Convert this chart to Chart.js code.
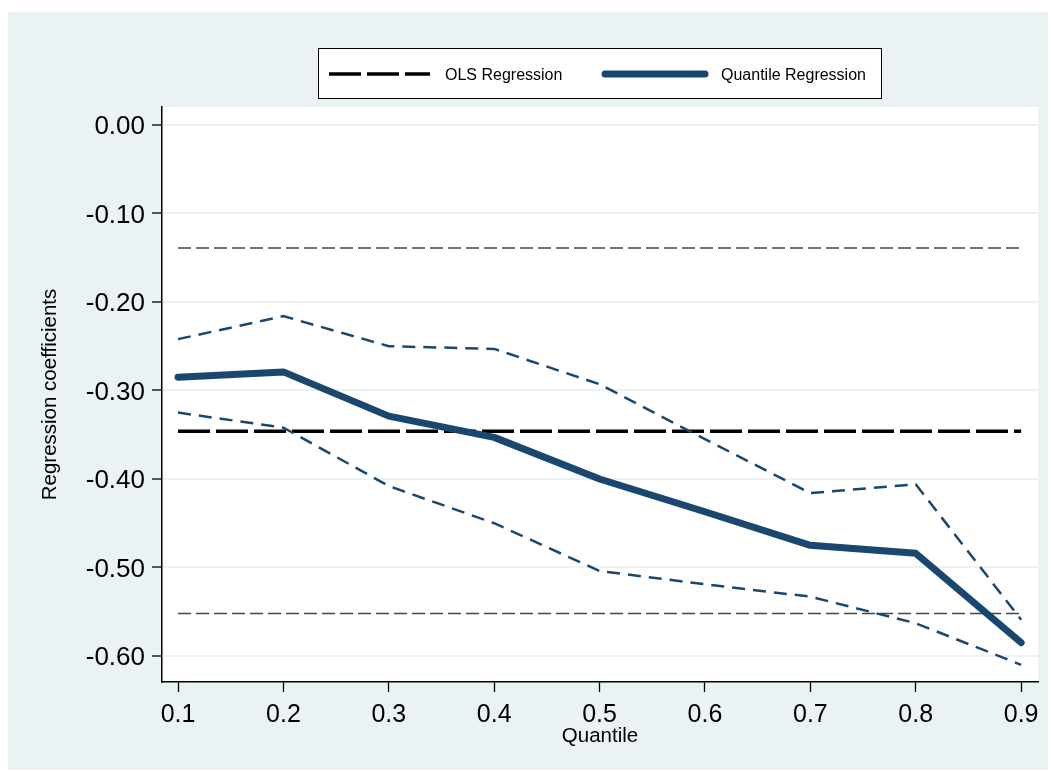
<!DOCTYPE html>
<html lang="en">
<head>
    <meta charset="UTF-8">
    <title>Quantile vs OLS Regression</title>
    <script src="https://cdn.jsdelivr.net/npm/chart.js"></script>
    <style>
        * {
            margin: 0;
            padding: 0;
            box-sizing: border-box;
        }

        body {
            background: #ffffff;
            width: 1051px;
            height: 774px;
            overflow: hidden;
        }

        .wrap {
            position: relative;
            width: 1051px;
            height: 774px;
        }
    </style>
</head>
<body>
    <div class="wrap">
        <canvas id="qrChart" width="1051" height="774"></canvas>
    </div>

    <script>
        // values
        const quantiles = [0.1, 0.2, 0.3, 0.4, 0.5, 0.6, 0.7, 0.8, 0.9];
        const quantCoef = [-0.285, -0.279, -0.329, -0.353, -0.400, -0.437, -0.475, -0.484, -0.585];
        const quantUpper = [-0.242, -0.216, -0.250, -0.253, -0.293, -0.355, -0.416, -0.406, -0.559];
        const quantLower = [-0.325, -0.342, -0.408, -0.450, -0.504, -0.519, -0.533, -0.563, -0.610];
        const olsCoef = -0.346;
        const olsUpper = -0.139;
        const olsLower = -0.552;

        const yTicks = [0, -0.1, -0.2, -0.3, -0.4, -0.5, -0.6];
        const xTicks = [0.1, 0.2, 0.3, 0.4, 0.5, 0.6, 0.7, 0.8, 0.9];
        const legendLabels = ['OLS Regression', 'Quantile Regression'];

        const navy = '#1a476f';
        const bgBlue = '#eaf2f3';
        const fontFamily = "'Liberation Sans', Arial, Helvetica, sans-serif";

        const pts = vals => quantiles.map((q, i) => ({ x: q, y: vals[i] }));
        const flat = v => quantiles.map(q => ({ x: q, y: v }));

        // Stata style background + legend box
        const stataFrame = {
            id: 'stataFrame',
            beforeDraw(chart) {
                const ctx = chart.ctx;
                const a = chart.chartArea;
                ctx.save();
                ctx.fillStyle = '#ffffff';
                ctx.fillRect(0, 0, chart.width, chart.height);
                ctx.fillStyle = bgBlue;
                ctx.fillRect(8, 12, chart.width - 11, chart.height - 16);
                ctx.fillStyle = '#ffffff';
                ctx.fillRect(a.left, a.top, a.right - a.left, a.bottom - a.top);
                ctx.restore();
            },
            afterDraw(chart) {
                const ctx = chart.ctx;
                ctx.save();
                // legend box
                ctx.fillStyle = '#ffffff';
                ctx.fillRect(318.5, 48.5, 563, 50);
                ctx.strokeStyle = '#000000';
                ctx.lineWidth = 1;
                ctx.strokeRect(318.5, 48.5, 563, 50);

                const ly = 74;
                // OLS sample
                ctx.beginPath();
                ctx.setLineDash([32, 6]);
                ctx.strokeStyle = '#000000';
                ctx.lineWidth = 3.5;
                ctx.moveTo(329, ly);
                ctx.lineTo(430, ly);
                ctx.stroke();
                // quantile sample
                ctx.beginPath();
                ctx.setLineDash([]);
                ctx.strokeStyle = navy;
                ctx.lineWidth = 7;
                ctx.lineCap = 'round';
                ctx.moveTo(605, ly);
                ctx.lineTo(705, ly);
                ctx.stroke();

                ctx.fillStyle = '#000000';
                ctx.font = '16px ' + fontFamily;
                ctx.textBaseline = 'middle';
                ctx.textAlign = 'left';
                ctx.fillText(legendLabels[0], 445, ly + 1.5);
                ctx.fillText(legendLabels[1], 721, ly + 1.5);
                ctx.restore();
            }
        };

        new Chart(document.getElementById('qrChart'), {
            type: 'line',
            data: {
                datasets: [
                    {
                        label: 'Quantile Regression',
                        data: pts(quantCoef),
                        borderColor: navy,
                        borderWidth: 7,
                        borderCapStyle: 'round',
                        borderJoinStyle: 'round'
                    },
                    {
                        label: 'QR upper',
                        data: pts(quantUpper),
                        borderColor: navy,
                        borderWidth: 2.5,
                        borderDash: [13, 8]
                    },
                    {
                        label: 'QR lower',
                        data: pts(quantLower),
                        borderColor: navy,
                        borderWidth: 2.5,
                        borderDash: [13, 8]
                    },
                    {
                        label: 'OLS Regression',
                        data: flat(olsCoef),
                        borderColor: '#000000',
                        borderWidth: 3.5,
                        borderDash: [32, 6]
                    },
                    {
                        label: 'OLS upper',
                        data: flat(olsUpper),
                        borderColor: '#444444',
                        borderWidth: 1.3,
                        borderDash: [13, 5]
                    },
                    {
                        label: 'OLS lower',
                        data: flat(olsLower),
                        borderColor: '#444444',
                        borderWidth: 1.3,
                        borderDash: [13, 5]
                    }
                ]
            },
            options: {
                responsive: false,
                animation: false,
                events: [],
                layout: {
                    padding: { left: 0, top: 107, right: 13, bottom: 0 }
                },
                elements: {
                    point: { radius: 0 },
                    line: { tension: 0, fill: false }
                },
                plugins: {
                    legend: { display: false },
                    tooltip: { enabled: false }
                },
                scales: {
                    x: {
                        type: 'linear',
                        min: 0.0848,
                        max: 0.916,
                        afterBuildTicks: s => { s.ticks = xTicks.map(v => ({ value: v })); },
                        afterFit: s => { s.height = 92; },
                        grid: {
                            drawOnChartArea: false,
                            drawTicks: true,
                            tickLength: 10,
                            tickColor: '#000000',
                            tickWidth: 1.3
                        },
                        border: { display: true, color: '#000000', width: 1.5 },
                        ticks: {
                            padding: 8,
                            maxRotation: 0,
                            color: '#000000',
                            font: { family: fontFamily, size: 25 },
                            callback: v => v.toFixed(1)
                        },
                        title: {
                            display: true,
                            text: 'Quantile',
                            color: '#000000',
                            font: { family: fontFamily, size: 20.5 },
                            padding: { top: 0, bottom: 25 }
                        }
                    },
                    y: {
                        min: -0.6294,
                        max: 0.0203,
                        afterBuildTicks: s => { s.ticks = yTicks.map(v => ({ value: v })); },
                        afterFit: s => { s.width = 162; },
                        grid: {
                            color: bgBlue,
                            lineWidth: 2,
                            drawTicks: true,
                            tickLength: 10,
                            tickColor: '#000000',
                            tickWidth: 1.3
                        },
                        border: { display: true, color: '#000000', width: 1.5 },
                        ticks: {
                            padding: 7,
                            labelOffset: 2,
                            color: '#000000',
                            font: { family: fontFamily, size: 26 },
                            callback: v => v.toFixed(2)
                        },
                        title: {
                            display: true,
                            text: 'Regression coefficients',
                            color: '#000000',
                            font: { family: fontFamily, size: 20.5 },
                            padding: { top: 38, bottom: 0 }
                        }
                    }
                }
            },
            plugins: [stataFrame]
        });
    </script>
</body>
</html>
